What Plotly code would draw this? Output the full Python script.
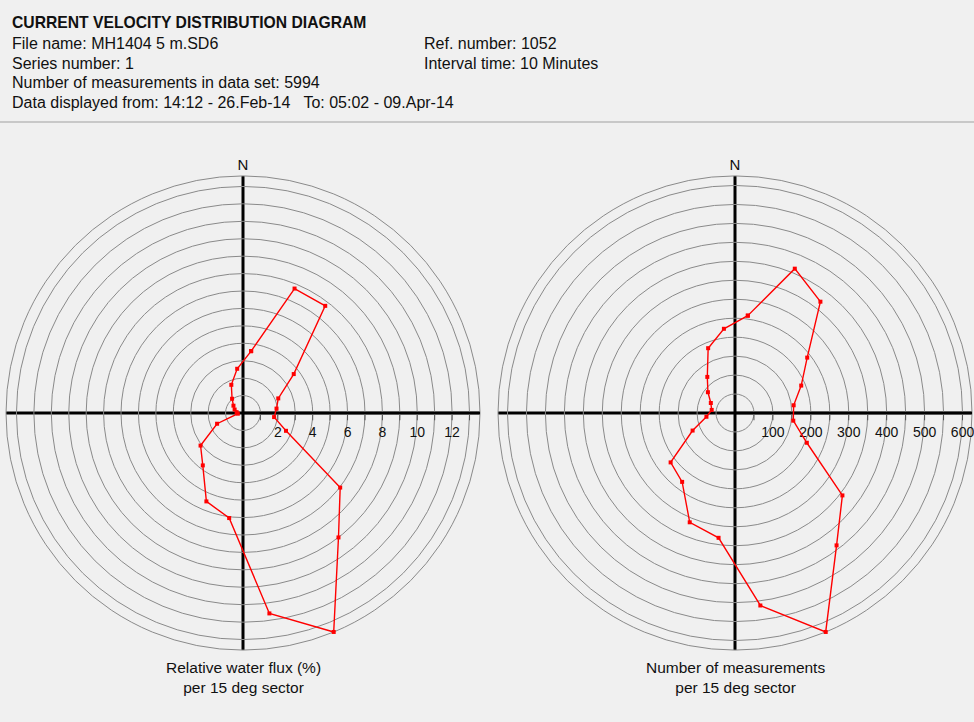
import plotly.graph_objects as go

FONT = "Liberation Sans, Arial, sans-serif"

# Sector centre directions (degrees, clockwise from North), 15 deg sectors
sectors = [7.5, 22.5, 37.5, 52.5, 67.5, 82.5, 97.5, 112.5, 127.5, 142.5, 157.5, 172.5,
           187.5, 202.5, 217.5, 232.5, 247.5, 262.5, 277.5, 292.5, 307.5, 322.5, 337.5, 352.5]

# Relative water flux (%) per sector
flux = [3.58, 7.73, 7.75, 3.67, 2.19, 1.94, 1.80, 2.67, 7.03, 9.00, 13.6, 11.6,
        6.08, 5.49, 3.79, 3.07, 1.61, 0.30, 0.37, 0.52, 0.69, 1.03, 1.75, 2.56]

# Number of measurements per sector
counts = [259, 412, 370, 240, 189, 156, 155, 205, 357, 440, 625, 512,
          332, 312, 229, 214, 121, 76, 62, 69, 90, 120, 185, 224]

flux_ticks = [1, 2, 3, 4, 5, 6, 7, 8, 9, 10, 11, 12, 13]
flux_labels = ["", "2", "", "4", "", "6", "", "8", "", "10", "", "12", ""]
count_ticks = [50, 100, 150, 200, 250, 300, 350, 400, 450, 500, 550, 600]
count_labels = ["", "100", "", "200", "", "300", "", "400", "", "500", "", "600"]

header_title = "CURRENT VELOCITY DISTRIBUTION DIAGRAM"
header_left = ["File name: MH1404 5 m.SD6", "Series number: 1",
               "Number of measurements in data set: 5994",
               "Data displayed from: 14:12 - 26.Feb-14   To: 05:02 - 09.Apr-14"]
header_right = ["Ref. number: 1052", "Interval time: 10 Minutes"]
caption_left = "Relative water flux (%)<br>per 15 deg sector"
caption_right = "Number of measurements<br>per 15 deg sector"

W, H = 974, 722


def px(x):
    return x / W


def py(y):
    return 1 - y / H


fig = go.Figure()
for name, vals in (("polar", flux), ("polar2", counts)):
    fig.add_trace(go.Scatterpolar(
        r=vals + [vals[0]], theta=sectors + [sectors[0]], subplot=name,
        mode="lines+markers", line=dict(color="#ff0000", width=1.4),
        marker=dict(symbol="square", size=4, color="#ff0000"),
        showlegend=False, hoverinfo="skip"))


def polar_layout(domx, rmax, tv, tt):
    return dict(
        domain=dict(x=domx, y=[py(650), py(176)]),
        bgcolor="rgba(0,0,0,0)",
        radialaxis=dict(range=[0, rmax], tickvals=tv, ticktext=tt, angle=0, tickangle=0,
                        showline=True, linecolor="black", linewidth=2.5,
                        showgrid=True, gridcolor="#8a8a8a", gridwidth=1,
                        ticks="outside", ticklen=6, tickcolor="#555", tickwidth=1,
                        tickfont=dict(family=FONT, size=14, color="#111"),
                        layer="below traces"),
        angularaxis=dict(rotation=90, direction="clockwise",
                         tickvals=[0, 90, 180, 270], ticktext=["N", "", "", ""],
                         showgrid=True, gridcolor="black", gridwidth=2.5,
                         showline=True, linecolor="#8a8a8a", linewidth=1,
                         ticks="", tickfont=dict(family=FONT, size=15, color="#111"),
                         layer="below traces"),
    )


fig.update_layout(
    width=W, height=H, margin=dict(l=0, r=0, t=0, b=0),
    paper_bgcolor="#f0f0f0", plot_bgcolor="#f0f0f0",
    font=dict(family=FONT, size=16, color="#111"),
    polar=polar_layout([px(6), px(480)], max(flux), flux_ticks, flux_labels),
    polar2=polar_layout([px(498), px(972)], max(counts), count_ticks, count_labels),
)

anns = [dict(x=px(10), y=py(22), text="<b>" + header_title + "</b>", font=dict(size=15.7))]
for i, t in enumerate(header_left):
    anns.append(dict(x=px(10), y=py(44 + 19.4 * i), text=t))
for i, t in enumerate(header_right):
    anns.append(dict(x=px(422), y=py(44 + 19.4 * i), text=t))
for a in anns:
    a.update(xref="paper", yref="paper", xanchor="left", yanchor="middle", showarrow=False)
anns.append(dict(x=px(243), y=py(677), text=caption_left, xref="paper", yref="paper",
                 xanchor="center", yanchor="middle", showarrow=False, font=dict(size=15.5)))
anns.append(dict(x=px(735), y=py(677), text=caption_right, xref="paper", yref="paper",
                 xanchor="center", yanchor="middle", showarrow=False, font=dict(size=15.5)))
fig.update_layout(annotations=anns)

fig.update_layout(shapes=[dict(type="line", xref="paper", yref="paper", x0=0, x1=1,
                               y0=py(122), y1=py(122), line=dict(color="#a0a0a0", width=1))])

fig.write_html("out.html", config={"displayModeBar": False},
               post_script="document.body.style.margin='0px';")
